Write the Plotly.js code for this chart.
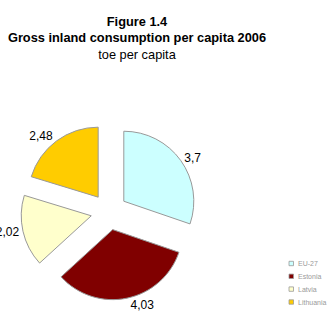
<!DOCTYPE html>
<html>
<head>
<meta charset="utf-8">
<script src="https://cdn.plot.ly/plotly-3.0.1.min.js"></script>
<style>html,body{margin:0;padding:0;background:#fff;}#chart{width:331px;height:312px;}</style>
</head>
<body>
<div id="chart"></div>
<script>
const categories = ["EU-27", "Estonia", "Latvia", "Lithuania"];
const values = [3.7, 4.03, 2.02, 2.48];
const valueLabels = ["3,7", "4,03", "2,02", "2,48"];
const colors = ["#CCFFFF", "#800000", "#FFFFCC", "#FFCC00"];

const W = 331, H = 312;
const FONT = "Liberation Sans, Arial, sans-serif";

const trace = {
  type: "pie",
  labels: categories,
  values: values,
  text: valueLabels,
  textinfo: "text",
  textposition: "outside",
  hoverinfo: "label+value",
  sort: false,
  direction: "clockwise",
  rotation: 0,
  pull: 0.26,
  marker: {colors: colors, line: {color: "#999999", width: 1}},
  outsidetextfont: {family: FONT, size: 12, color: "#000"},
  domain: {x: [20.8 / W, 197.2 / W], y: [(H - 300) / H, (H - 123.6) / H]},
  automargin: false
};

// small legend (compact rows, like the reference)
const legendRowsY = [263.5, 276.3, 289.1, 302];
const shapes = [];
const annotations = [];
categories.forEach((c, i) => {
  const yc = legendRowsY[i];
  shapes.push({
    type: "rect", xref: "paper", yref: "paper",
    x0: 289 / W, x1: 293.5 / W,
    y0: (H - yc - 2.2) / H, y1: (H - yc + 2.2) / H,
    fillcolor: colors[i], line: {color: "#999999", width: 0.8}
  });
  annotations.push({
    xref: "paper", yref: "paper",
    x: 295.5 / W, y: (H - yc) / H,
    xanchor: "left", yanchor: "middle",
    text: c, showarrow: false,
    font: {family: FONT, size: 7, color: "#9a9a9a"}
  });
});

const layout = {
  width: W, height: H,
  margin: {l: 0, r: 0, t: 0, b: 0, autoexpand: false},
  paper_bgcolor: "#fff",
  font: {family: FONT},
  title: {
    text: "<b>Figure 1.4</b><br><b>Gross inland consumption per capita 2006</b><br>toe per capita",
    font: {size: 12.8, color: "#000", family: FONT},
    x: 137 / W, xanchor: "center", xref: "paper",
    y: 0.918, yanchor: "top", yref: "container"
  },
  showlegend: false,
  shapes: shapes,
  annotations: annotations
};

Plotly.newPlot("chart", [trace], layout, {displayModeBar: false, staticPlot: true});
</script>
</body>
</html>
